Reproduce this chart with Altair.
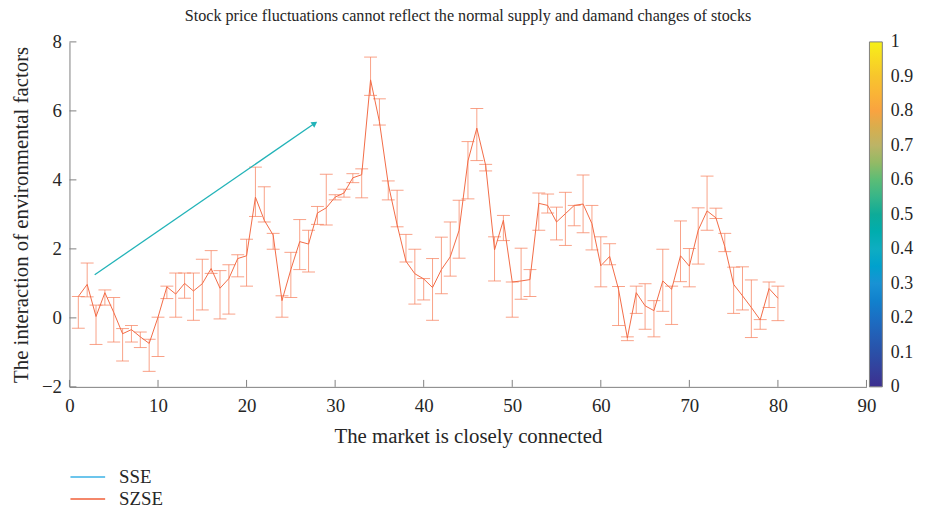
import altair as alt
import pandas as pd

# ---------------- data ----------------
x_vals = list(range(1, 81))
szse_center = [0.62, 0.97, 0.04, 0.73, 0.16, -0.46, -0.34, -0.55, -0.74, 0.02,
               0.90, 0.69, 1.00, 0.78, 0.99, 1.43, 0.86, 1.14, 1.72, 1.80,
               3.50, 2.83, 2.40, 0.50, 1.40, 2.21, 2.14, 3.04, 3.19, 3.50,
               3.62, 4.06, 4.15, 6.90, 5.69, 3.88, 2.70, 1.64, 1.28, 1.13,
               0.88, 1.40, 1.77, 2.54, 4.55, 5.50, 4.42, 1.97, 2.83, 1.04,
               1.07, 1.11, 3.32, 3.26, 2.78, 3.02, 3.26, 3.30, 2.73, 1.51,
               1.78, 0.83, -0.58, 0.73, 0.35, 0.21, 1.07, 0.83, 1.80, 1.50,
               2.54, 3.10, 2.90, 2.07, 0.97, 0.64, 0.30, -0.06, 0.85, 0.57]
szse_lower = [-0.30, 0.61, -0.77, 0.37, -0.70, -1.25, -0.70, -0.86, -1.55, -1.12,
              0.56, 0.02, 0.57, -0.07, 0.23, 1.29, -0.03, 0.11, 1.19, 0.92,
              2.94, 2.78, 1.99, 0.02, 0.59, 1.40, 1.33, 2.71, 2.69, 3.42,
              3.50, 3.92, 3.48, 6.45, 5.59, 3.42, 2.64, 1.62, 0.40, 0.52,
              -0.07, 0.70, 1.21, 1.73, 3.45, 4.56, 4.26, 1.07, 2.24, 0.02,
              0.54, 0.62, 2.54, 3.04, 2.26, 2.10, 2.67, 2.47, 1.97, 0.90,
              1.54, -0.22, -0.66, 0.13, -0.33, -0.55, 0.19, -0.19, 1.05, 0.90,
              1.56, 2.54, 2.88, 1.92, 0.13, 0.23, -0.57, -0.33, 0.30, -0.08]
szse_upper = [0.62, 1.59, 0.37, 0.81, 0.59, -0.31, -0.22, -0.41, -0.62, 0.02,
              0.92, 1.30, 1.30, 1.30, 1.70, 1.95, 1.37, 1.54, 1.83, 2.28,
              4.37, 3.80, 2.45, 0.64, 1.90, 2.85, 2.54, 3.23, 4.16, 3.57,
              3.73, 4.18, 4.32, 7.56, 6.35, 3.97, 3.70, 2.42, 1.99, 1.14,
              1.72, 2.34, 2.78, 3.41, 5.11, 6.07, 4.45, 2.35, 2.97, 1.04,
              2.02, 1.40, 3.62, 3.59, 3.21, 3.64, 3.26, 4.14, 3.26, 2.35,
              2.15, 0.91, -0.55, 0.92, 0.99, 0.50, 1.99, 0.92, 2.81, 2.01,
              3.19, 4.11, 3.18, 2.45, 1.47, 1.48, 1.10, -0.05, 1.04, 0.92]

sse_x = [2.85, 27.7]
sse_y = [1.25, 5.64]

x_ticks = [0, 10, 20, 30, 40, 50, 60, 70, 80, 90]
y_ticks = [-2, 0, 2, 4, 6, 8]
cbar_ticks = [0, 0.1, 0.2, 0.3, 0.4, 0.5, 0.6, 0.7, 0.8, 0.9, 1]
parula = ["#3d2f8f", "#2a50a8", "#1a6fc4", "#1992d4", "#0eadc2", "#0eab98",
          "#5bbd76", "#bcb466", "#f9a340", "#f7c52d", "#f6f018"]
series_names = ["SSE", "SZSE"]
legend_colors = ["#6cc5ec", "#f4876a"]

# ---------------- style ----------------
W, H = 804, 348
FONT = "Liberation Serif"
AXC = "#808080"
TXT = "#262626"
LINE_C = "#f26a45"
EB_C = "#f7825f"
TEAL = "#22b3b8"
TICK_FS = 19
AXT_FS = 21

df = pd.DataFrame({"x": x_vals, "c": szse_center, "lo": szse_lower, "hi": szse_upper})
sse_df = pd.DataFrame({"x": sse_x, "y": sse_y})
head_df = pd.DataFrame({"x": sse_x[-1:], "y": sse_y[-1:]})
xt_df = pd.DataFrame({"x": x_ticks})
yt_df = pd.DataFrame({"y": y_ticks})
cb_df = pd.DataFrame({"v": cbar_ticks})
ser_df = pd.DataFrame({"s": series_names})

xs = alt.Scale(domain=[0, 90], nice=False, zero=False)
ys = alt.Scale(domain=[-2, 8], nice=False, zero=False)

x_axis = alt.Axis(values=x_ticks, title="The market is closely connected", ticks=False,
                  grid=False, domainColor=AXC, labelFont=FONT, labelFontSize=TICK_FS,
                  labelColor=TXT, titleFont=FONT, titleFontSize=AXT_FS, titleFontWeight="normal",
                  titleColor=TXT, labelPadding=10, titlePadding=10, labelFlush=False)
y_axis = alt.Axis(values=y_ticks, title="The interaction of environmental factors", ticks=False,
                  grid=False, domainColor=AXC, labelFont=FONT, labelFontSize=TICK_FS,
                  labelColor=TXT, titleFont=FONT, titleFontSize=AXT_FS, titleFontWeight="normal",
                  titleColor=TXT, labelPadding=8, titlePadding=10)


def X(field):
    return alt.X(field, type="quantitative", scale=xs, axis=x_axis)


def Y(field):
    return alt.Y(field, type="quantitative", scale=ys, axis=y_axis)


base = alt.Chart(df)

err = base.mark_rule(color=EB_C, opacity=0.75, strokeWidth=1).encode(
    x=X("x"), y=Y("lo"), y2="hi:Q",
)
cap_lo = base.mark_tick(orient="horizontal", size=13, thickness=1, color=EB_C, opacity=0.75).encode(
    x=X("x"), y=Y("lo"),
)
cap_hi = base.mark_tick(orient="horizontal", size=13, thickness=1, color=EB_C, opacity=0.75).encode(
    x=X("x"), y=Y("hi"),
)
line = base.mark_line(color=LINE_C, strokeWidth=1).encode(x=X("x"), y=Y("c"))

arrow = alt.Chart(sse_df).mark_line(color=TEAL, strokeWidth=1.3).encode(x=X("x"), y=Y("y"))
head = alt.Chart(head_df).mark_point(shape="triangle-right", angle=325.6, filled=True,
                                     size=45, color=TEAL, opacity=1).encode(x=X("x"), y=Y("y"))

xticks = alt.Chart(xt_df).mark_rule(color=AXC, strokeWidth=1).encode(
    x=X("x"), y=alt.value(H), y2=alt.value(H - 7),
)
yticks = alt.Chart(yt_df).mark_rule(color=AXC, strokeWidth=1).encode(
    y=Y("y"), x=alt.value(0), x2=alt.value(7),
)

main = alt.layer(err, cap_lo, cap_hi, line, arrow, head, xticks, yticks)

# colorbar: gradient legend (bar) + independent right axis (labels)
cbar = alt.Chart(cb_df).mark_square(size=0, opacity=0).encode(
    x=alt.value(0),
    y=alt.Y("v:Q", scale=alt.Scale(domain=[0, 1], nice=False, zero=False),
            axis=alt.Axis(orient="right", values=cbar_ticks, format=".1~f", offset=16,
                          labelPadding=8, domain=False, ticks=False, grid=False, title=None,
                          labelFont=FONT, labelFontSize=18, labelColor=TXT,
                          labelFlush=False, labelOverlap=False)),
    fill=alt.Fill("v:Q", scale=alt.Scale(domain=cbar_ticks, range=parula),
                  legend=alt.Legend(orient="none", legendX=W + 3, legendY=0,
                                    direction="vertical", gradientLength=H,
                                    gradientThickness=13, values=cbar_ticks,
                                    title=None, labelOpacity=0, labelFontSize=1,
                                    gradientStrokeColor=AXC, gradientStrokeWidth=1,
                                    padding=0)),
)

series_leg = alt.Chart(ser_df).mark_point(size=0, opacity=0).encode(
    x=alt.value(0),
    y=alt.value(0),
    stroke=alt.Stroke("s:N", scale=alt.Scale(domain=series_names, range=legend_colors),
                      legend=alt.Legend(orient="none", legendX=0, legendY=H + 82,
                                        title=None, symbolType="stroke", symbolSize=1225,
                                        symbolStrokeWidth=2, symbolOpacity=1,
                                        labelFont=FONT, labelFontSize=TICK_FS, labelColor=TXT,
                                        labelOffset=13, clipHeight=18, rowPadding=3,
                                        padding=0)),
)

chart = alt.layer(main, cbar, series_leg).properties(
    width=W,
    height=H,
    title=alt.Title("Stock price fluctuations cannot reflect the normal supply and damand changes of stocks",
                    font=FONT, fontSize=16.3, fontWeight="normal", color=TXT, anchor="middle",
                    offset=9),
    padding={"left": 62, "top": 32, "right": 54, "bottom": 121},
    autosize=alt.AutoSizeParams(type="none"),
).resolve_scale(y="independent", fill="independent", stroke="independent").configure_view(stroke=None)

chart.save("out.html", embed_options={"renderer": "svg", "actions": False})
